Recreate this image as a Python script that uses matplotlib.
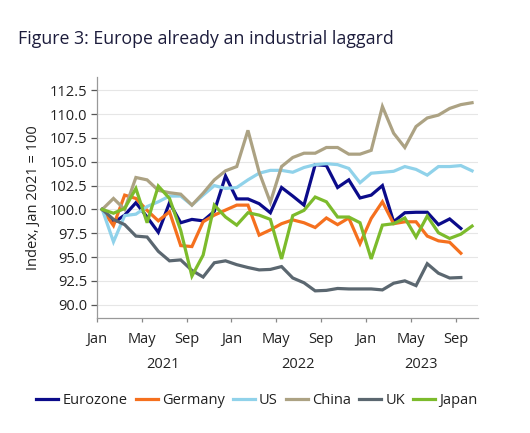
import matplotlib
matplotlib.use("Agg")
import matplotlib.pyplot as plt
import numpy as np

plt.rcParams['font.family'] = ['Open Sans', 'DejaVu Sans']

# Monthly index, Jan 2021 = 100 (month 0 = Jan 2021)
eurozone = [100.0, 98.6, 99.4, 100.7, 99.2, 97.6, 100.7, 98.6, 98.95, 98.8, 99.8, 103.5,
            101.1, 101.1, 100.6, 99.65, 102.3, 101.4, 100.45, 104.7, 104.6, 102.3, 103.1, 101.2,
            101.5, 102.5, 98.7, 99.65, 99.7, 99.7, 98.4, 99.0, 98.0]
germany = [100.0, 98.3, 101.5, 101.15, 99.9, 98.8, 99.75, 96.2, 96.1, 98.7, 99.4, 99.93,
           100.45, 100.45, 97.3, 97.85, 98.5, 98.9, 98.6, 98.1, 99.1, 98.4, 99.1, 96.4,
           99.05, 100.8, 98.5, 98.7, 98.7, 97.2, 96.7, 96.55, 95.4]
us = [100.0, 96.6, 99.35, 99.5, 100.3, 100.8, 101.4, 101.4, 100.45, 101.5, 102.5, 102.2,
      102.3, 103.1, 103.8, 104.1, 104.1, 103.9, 104.4, 104.7, 104.8, 104.7, 104.3, 102.8,
      103.8, 103.9, 104.0, 104.5, 104.2, 103.6, 104.5, 104.5, 104.6, 104.05]
china = [100.0, 101.15, 100.0, 103.35, 103.1, 102.0, 101.75, 101.6, 100.45, 101.7, 103.1, 104.05,
         104.5, 108.3, 103.9, 100.75, 104.5, 105.45, 105.9, 105.9, 106.5, 106.5, 105.8, 105.8,
         106.2, 110.8, 108.0, 106.5, 108.7, 109.6, 109.9, 110.6, 111.0, 111.2]
uk = [100.0, 98.95, 98.4, 97.2, 97.1, 95.6, 94.6, 94.7, 93.6, 92.9, 94.4, 94.6,
      94.2, 93.9, 93.65, 93.7, 94.0, 92.8, 92.3, 91.45, 91.5, 91.7, 91.65, 91.65,
      91.65, 91.55, 92.25, 92.5, 92.0, 94.3, 93.3, 92.8, 92.85]
japan = [100.0, 99.6, 100.1, 102.2, 98.6, 102.45, 101.15, 97.8, 93.0, 95.2, 100.45, 99.2,
         98.35, 99.65, 99.4, 98.95, 94.8, 99.35, 99.9, 101.3, 100.8, 99.2, 99.2, 98.6,
         94.8, 98.35, 98.5, 99.1, 97.1, 99.3, 97.55, 96.95, 97.4, 98.25]

series_names = ["Eurozone", "Germany", "US", "China", "UK", "Japan"]
series_values = [eurozone, germany, us, china, uk, japan]
series_colors = ["#0b0b8a", "#f5701e", "#90d2ea", "#aca283", "#5b6770", "#7cbb2c"]

x_tick_labels = ["Jan", "May", "Sep"] * 3
year_labels = ["2021", "2022", "2023"]
y_ticks = [90.0, 92.5, 95.0, 97.5, 100.0, 102.5, 105.0, 107.5, 110.0, 112.5]

fig = plt.figure(figsize=(5.30, 4.33), dpi=100)
ax = fig.add_axes([97/530, 1-318/433, (478-97)/530, (318-77)/433])

for name, vals, col in zip(series_names, series_values, series_colors):
    xs = np.arange(len(vals)) + 0.47
    ax.plot(xs, vals, color=col, lw=2.3, label=name, solid_joinstyle='miter')

ax.set_xlim(0, 34)
ax.set_ylim(88.6, 113.9)
ax.set_yticks(y_ticks)
ax.set_yticklabels([f"{v:.1f}" for v in y_ticks], fontsize=10.5, color="#222222")
ax.yaxis.grid(True, color="#e6e6e6", lw=0.8)
ax.set_axisbelow(True)

ax.set_xticks(np.arange(0, 33, 4))
ax.set_xticklabels(x_tick_labels, fontsize=10.5, color="#222222")
ax.set_xticks([0, 12, 24], minor=True)
ax.tick_params(axis='x', which='major', length=3, width=0.9, color="#888888", pad=7)
ax.tick_params(axis='x', which='minor', length=6, width=1.2, color="#555555")
ax.tick_params(axis='y', length=4, width=0.9, color="#555555", pad=3)

for s in ["top", "right"]:
    ax.spines[s].set_visible(False)
for s in ["left", "bottom"]:
    ax.spines[s].set_color("#999999")
    ax.spines[s].set_linewidth(0.9)

year_pos = [5.9, 17.9, 28.9]
for yp, yl in zip(year_pos, year_labels):
    ax.text(yp, -0.195, yl, transform=ax.get_xaxis_transform(), ha='center', va='center',
            fontsize=10.5, color="#222222")

ax.set_ylabel("Index, Jan 2021 = 100", fontsize=10.5, color="#222222", labelpad=6)

fig.text(18/530, 1-39/433, "Figure 3: Europe already an industrial laggard",
         fontsize=12.8, color="#1c1c3c", ha='left', va='center')

fig.legend(loc='center', bbox_to_anchor=(257/530, 1-401/433), ncol=6, frameon=False,
           fontsize=10.5, handlelength=1.5, handletextpad=0.3, columnspacing=0.55,
           labelcolor="#222222")

fig.savefig("out.png", dpi=100)
